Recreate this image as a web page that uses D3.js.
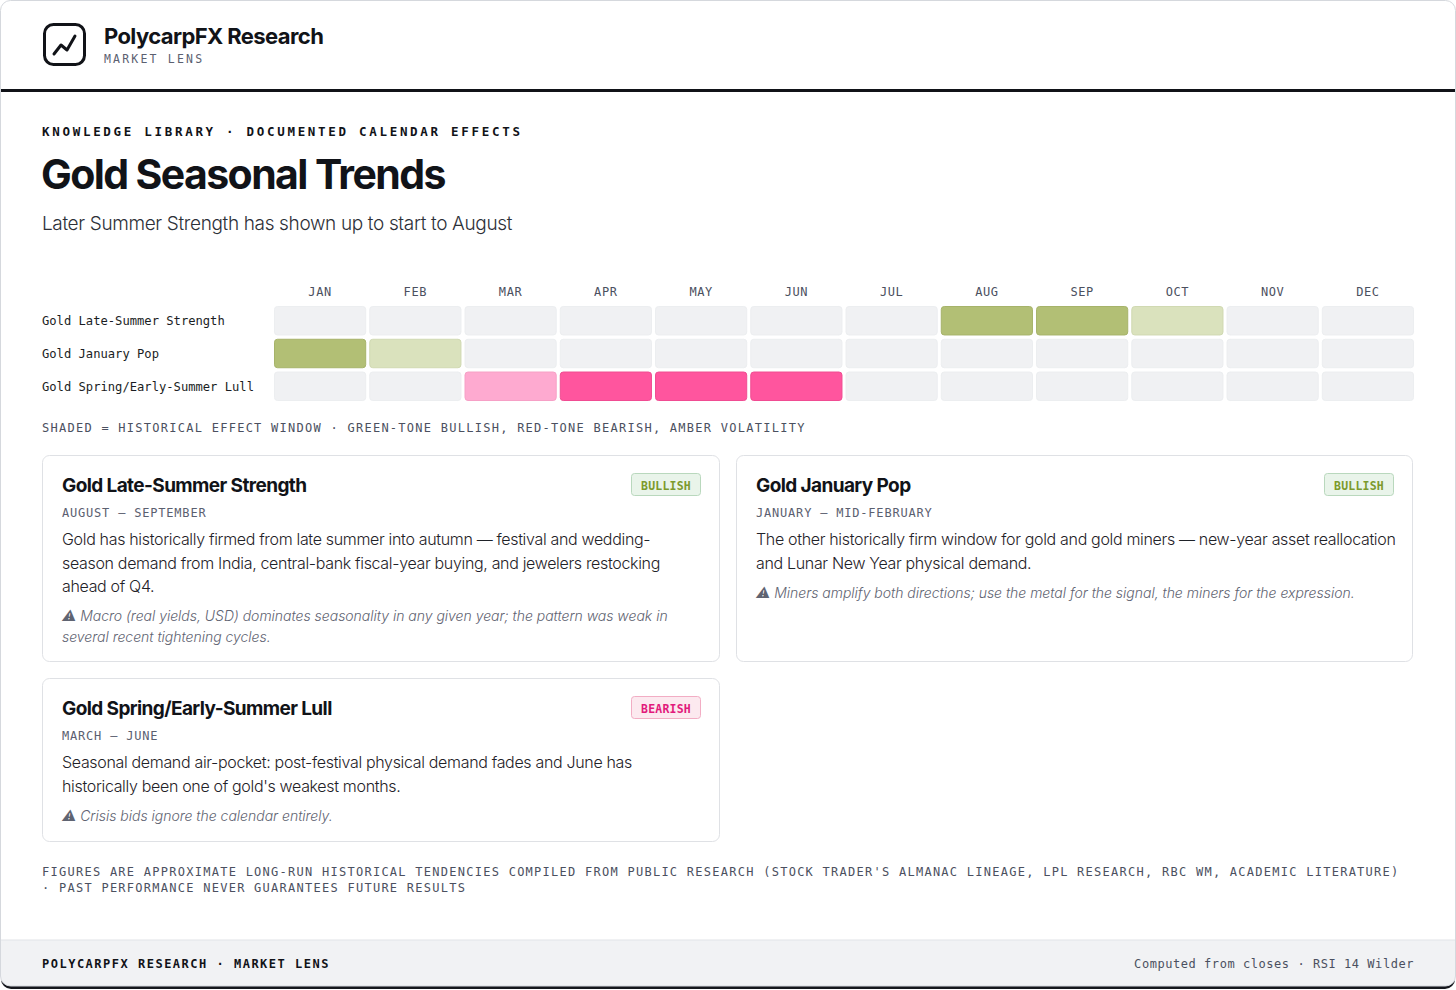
<!DOCTYPE html>
<html>
<head>
<meta charset="utf-8">
<script src="https://cdn.jsdelivr.net/npm/d3@7"></script>
<style>
  html, body { margin: 0; padding: 0; background: #fff; }
  svg { display: block; }
</style>
</head>
<body>
<svg id="chart" width="1456" height="990"></svg>
<script>
// chart data
var months = ["JAN","FEB","MAR","APR","MAY","JUN","JUL","AUG","SEP","OCT","NOV","DEC"];
var effects = ["Gold Late-Summer Strength", "Gold January Pop", "Gold Spring/Early-Summer Lull"];
// +2 strong bullish, +1 light bullish, -1 light bearish, -2 strong bearish, 0 none
var lateSummer = [0,0,0,0,0,0,0,2,2,1,0,0];
var januaryPop = [2,1,0,0,0,0,0,0,0,0,0,0];
var springLull = [0,0,-1,-2,-2,-2,0,0,0,0,0,0];
var seriesValues = [lateSummer, januaryPop, springLull];

var biases = ["BULLISH", "BULLISH", "BEARISH"];
var windows = ["AUGUST – SEPTEMBER", "JANUARY – MID-FEBRUARY", "MARCH – JUNE"];
var bodies = [
  ["Gold has historically firmed from late summer into autumn — festival and wedding-",
   "season demand from India, central-bank fiscal-year buying, and jewelers restocking",
   "ahead of Q4."],
  ["The other historically firm window for gold and gold miners — new-year asset reallocation",
   "and Lunar New Year physical demand."],
  ["Seasonal demand air-pocket: post-festival physical demand fades and June has",
   "historically been one of gold's weakest months."]
];
var notes = [
  ["⚠︎ Macro (real yields, USD) dominates seasonality in any given year; the pattern was weak in",
   "several recent tightening cycles."],
  ["⚠︎ Miners amplify both directions; use the metal for the signal, the miners for the expression."],
  ["⚠︎ Crisis bids ignore the calendar entirely."]
];

var W = 1456, H = 990;
var mono = "'DejaVu Sans Mono', 'Liberation Mono', monospace";
var sans = "Inter, 'Noto Sans', sans-serif";

var svg = d3.select("#chart");

// frame
svg.append("rect").attr("x", 1).attr("y", 3).attr("width", W - 2).attr("height", H - 4)
  .attr("rx", 10).attr("fill", "#15171c");
var defs = svg.append("defs");
defs.append("clipPath").attr("id", "frameClip")
  .append("rect").attr("x", 0.5).attr("y", 0.5).attr("width", W - 1).attr("height", H - 4.5).attr("rx", 10);
svg.append("rect").attr("x", 0.5).attr("y", 0.5).attr("width", W - 1).attr("height", H - 4.5)
  .attr("rx", 10).attr("fill", "#fff");

var page = svg.append("g").attr("clip-path", "url(#frameClip)");

// header
var logo = page.append("g").attr("transform", "translate(43,23)");
logo.append("rect").attr("x", 1.5).attr("y", 1.5).attr("width", 40).attr("height", 40)
  .attr("rx", 9).attr("fill", "none").attr("stroke", "#111318").attr("stroke-width", 3);
logo.append("path").attr("d", "M11 31 L18 22 L24 27 L32 13")
  .attr("fill", "none").attr("stroke", "#111318").attr("stroke-width", 3)
  .attr("stroke-linecap", "round").attr("stroke-linejoin", "round");

page.append("text").attr("x", 104).attr("y", 44).text("PolycarpFX Research")
  .attr("font-family", sans).attr("font-weight", 700).attr("font-size", 22)
  .attr("letter-spacing", -0.6).attr("fill", "#111318");
page.append("text").attr("x", 104).attr("y", 63).text("MARKET LENS")
  .attr("font-family", mono).attr("font-size", 11.5).attr("letter-spacing", 2.2).attr("fill", "#5b6070");

page.append("rect").attr("x", 0).attr("y", 89).attr("width", W).attr("height", 3).attr("fill", "#111318");

// title block
page.append("text").attr("x", 42).attr("y", 136).text("KNOWLEDGE LIBRARY · DOCUMENTED CALENDAR EFFECTS")
  .attr("font-family", mono).attr("font-weight", 700).attr("font-size", 12.5)
  .attr("letter-spacing", 2.7).attr("fill", "#111318");
page.append("text").attr("x", 41).attr("y", 189).text("Gold Seasonal Trends")
  .attr("font-family", sans).attr("font-weight", 700).attr("font-size", 41)
  .attr("letter-spacing", -1.6).attr("fill", "#111318");
page.append("text").attr("x", 42).attr("y", 230).text("Later Summer Strength has shown up to start to August")
  .attr("font-family", sans).attr("font-weight", 300).attr("font-size", 19)
  .attr("letter-spacing", -0.35).attr("fill", "#2d3038");

// heatmap
var x = d3.scaleBand().domain(months).range([274, 1414]).paddingInner(0.032);
var y = d3.scaleBand().domain(effects).range([306, 401]).paddingInner(0.1);

var fillFor = function (v) {
  if (v === 2) return "#b2bf75";
  if (v === 1) return "#dae2bd";
  if (v === -1) return "#feaad0";
  if (v === -2) return "#ff559e";
  return "#f0f1f3";
};
var strokeFor = function (v) {
  if (v === 2) return "#a6b36a";
  if (v === 1) return "#d0d9b2";
  if (v === -1) return "#f6a0c6";
  if (v === -2) return "#f04c92";
  return "#eceef0";
};

page.append("g").selectAll("text").data(months).enter().append("text")
  .attr("x", function (d) { return x(d) + x.bandwidth() / 2; })
  .attr("y", 296).attr("text-anchor", "middle").text(function (d) { return d; })
  .attr("font-family", mono).attr("font-size", 12).attr("letter-spacing", 0.6)
  .attr("fill", "#4b5060");

page.append("g").selectAll("text").data(effects).enter().append("text")
  .attr("x", 42).attr("y", function (d) { return y(d) + y.bandwidth() / 2 + 4.5; })
  .text(function (d) { return d; })
  .attr("font-family", mono).attr("font-size", 12.15).attr("fill", "#1a1d23");

var cells = [];
effects.forEach(function (e, i) {
  seriesValues[i].forEach(function (v, j) { cells.push({ effect: e, month: months[j], v: v }); });
});
page.append("g").selectAll("rect").data(cells).enter().append("rect")
  .attr("x", function (d) { return x(d.month) + 0.5; })
  .attr("y", function (d) { return y(d.effect) + 0.5; })
  .attr("width", x.bandwidth() - 1).attr("height", y.bandwidth() - 1)
  .attr("rx", 3).attr("fill", function (d) { return fillFor(d.v); })
  .attr("stroke", function (d) { return strokeFor(d.v); }).attr("stroke-width", 1);

page.append("text").attr("x", 42).attr("y", 432)
  .text("SHADED = HISTORICAL EFFECT WINDOW · GREEN-TONE BULLISH, RED-TONE BEARISH, AMBER VOLATILITY")
  .attr("font-family", mono).attr("font-size", 12).attr("letter-spacing", 1.26).attr("fill", "#4b5060");

// cards
var cardBoxes = [
  { x: 42, y: 455, w: 678, h: 207 },
  { x: 736, y: 455, w: 677, h: 207 },
  { x: 42, y: 678, w: 678, h: 164 }
];
effects.forEach(function (e, i) {
  var b = cardBoxes[i];
  var g = page.append("g").attr("transform", "translate(" + b.x + "," + b.y + ")");
  g.append("rect").attr("x", 0.5).attr("y", 0.5).attr("width", b.w - 1).attr("height", b.h - 1)
    .attr("rx", 7).attr("fill", "#fff").attr("stroke", "#dfe1e5");
  g.append("text").attr("x", 20).attr("y", 37).text(e)
    .attr("font-family", sans).attr("font-weight", 700).attr("font-size", 19)
    .attr("letter-spacing", -0.6).attr("fill", "#111318");

  var bull = biases[i] === "BULLISH";
  g.append("rect").attr("x", b.w - 88.5).attr("y", 18.5).attr("width", 69).attr("height", 22)
    .attr("rx", 3).attr("fill", bull ? "#e9f4ea" : "#fce9ef")
    .attr("stroke", bull ? "#b9d8bd" : "#f2adc4");
  g.append("text").attr("x", b.w - 54).attr("y", 34.5).attr("text-anchor", "middle").text(biases[i])
    .attr("font-family", mono).attr("font-weight", 700).attr("font-size", 11.5)
    .attr("letter-spacing", 0.2).attr("fill", bull ? "#7c9a2c" : "#e21a7c");

  g.append("text").attr("x", 20).attr("y", 62).text(windows[i])
    .attr("font-family", mono).attr("font-size", 12).attr("letter-spacing", 0.8)
    .attr("fill", "#5b6070");

  var lh = 23.5;
  g.append("g").selectAll("text").data(bodies[i]).enter().append("text")
    .attr("x", 20).attr("y", function (d, k) { return 90 + k * lh; })
    .text(function (d) { return d; })
    .attr("font-family", sans).attr("font-weight", 300).attr("font-size", 16)
    .attr("letter-spacing", -0.33).attr("fill", "#1f2228");
  var noteTop = 90 + (bodies[i].length - 1) * lh + 29;
  g.append("g").selectAll("text").data(notes[i]).enter().append("text")
    .attr("x", 20).attr("y", function (d, k) { return noteTop + k * 20.5; })
    .text(function (d) { return d; })
    .attr("font-family", sans).attr("font-style", "italic").attr("font-weight", 300).attr("font-size", 14)
    .attr("letter-spacing", -0.02).attr("fill", "#5f6472");
});

// source note
var sourceLines = [
  "FIGURES ARE APPROXIMATE LONG-RUN HISTORICAL TENDENCIES COMPILED FROM PUBLIC RESEARCH (STOCK TRADER'S ALMANAC LINEAGE, LPL RESEARCH, RBC WM, ACADEMIC LITERATURE)",
  "· PAST PERFORMANCE NEVER GUARANTEES FUTURE RESULTS"
];
page.append("g").selectAll("text").data(sourceLines).enter().append("text")
  .attr("x", 42).attr("y", function (d, k) { return 875.5 + k * 16; })
  .text(function (d) { return d; })
  .attr("font-family", mono).attr("font-size", 12).attr("letter-spacing", 1.26).attr("fill", "#4b5060");

// footer band
page.append("rect").attr("x", 0).attr("y", 940).attr("width", W).attr("height", 50).attr("fill", "#f1f2f4");
page.append("rect").attr("x", 0).attr("y", 939.5).attr("width", W).attr("height", 1).attr("fill", "#e2e4e8");
page.append("text").attr("x", 42).attr("y", 967.5).text("POLYCARPFX RESEARCH · MARKET LENS")
  .attr("font-family", mono).attr("font-weight", 700).attr("font-size", 12)
  .attr("letter-spacing", 1.5).attr("fill", "#111318");
page.append("text").attr("x", 1414).attr("y", 967.5).attr("text-anchor", "end")
  .text("Computed from closes · RSI 14 Wilder")
  .attr("font-family", mono).attr("font-size", 12).attr("letter-spacing", 0.55).attr("fill", "#4b5060");

// outer border on top
svg.append("rect").attr("x", 0.5).attr("y", 0.5).attr("width", W - 1).attr("height", H - 4.5)
  .attr("rx", 10).attr("fill", "none").attr("stroke", "#d5d8dd");
</script>
</body>
</html>
